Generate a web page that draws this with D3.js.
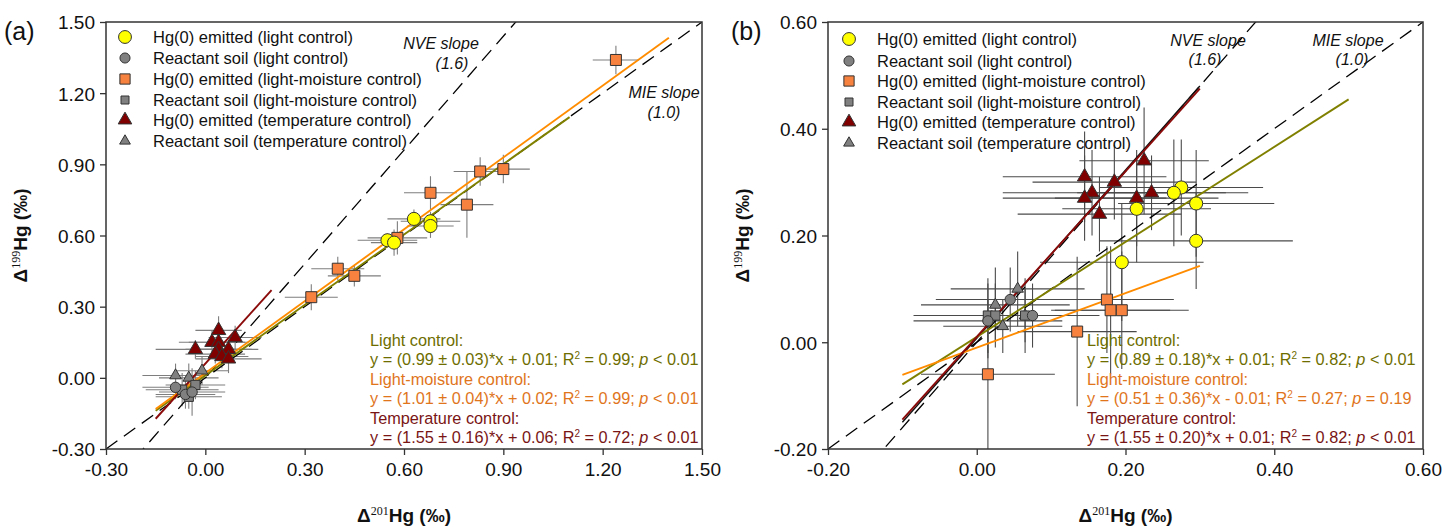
<!DOCTYPE html>
<html><head><meta charset="utf-8">
<script src="https://cdn.jsdelivr.net/npm/d3@7"></script>
<style>body{margin:0;background:#fff} svg{display:block}</style>
</head><body><svg id="c" width="1445" height="529"></svg>
<script>
// ---------- DATA ----------
const xTicksA=[-0.3,0,0.3,0.6,0.9,1.2,1.5];
const yTicksA=[-0.3,0,0.3,0.6,0.9,1.2,1.5];
const xTicksB=[-0.2,0,0.2,0.4,0.6];
const yTicksB=[-0.2,0,0.2,0.4,0.6];

const legendLabels=["Hg(0) emitted (light control)","Reactant soil (light control)","Hg(0) emitted (light-moisture control)","Reactant soil (light-moisture control)","Hg(0) emitted (temperature control)","Reactant soil (temperature control)"];

// points: [x, y, xerr, yerr]
// panel (a)
const emitLightA=[[0.55,0.58,0.09,0.03],[0.57,0.57,0.07,0.055],[0.63,0.67,0.08,0.04],[0.68,0.66,0.09,0.04],[0.68,0.64,0.07,0.05]];
const soilLightA=[[-0.09,-0.04,0.10,0.05],[-0.06,-0.07,0.09,0.06],[-0.04,-0.06,0.10,0.10]];
const emitMoistA=[[0.32,0.34,0.08,0.055],[0.40,0.46,0.08,0.05],[0.45,0.43,0.08,0.045],[0.58,0.59,0.09,0.07],[0.68,0.78,0.08,0.07],[0.79,0.73,0.08,0.14],[0.83,0.87,0.08,0.06],[0.90,0.88,0.08,0.06],[1.24,1.34,0.07,0.06]];
const soilMoistA=[[-0.07,-0.05,0.11,0.07],[-0.03,-0.03,0.09,0.06],[-0.05,-0.08,0.10,0.05]];
const emitTempA=[[-0.03,0.12,0.12,0.04],[0.02,0.15,0.10,0.05],[0.04,0.20,0.07,0.06],[0.04,0.15,0.09,0.04],[0.09,0.17,0.08,0.05],[0.04,0.12,0.10,0.04],[0.07,0.12,0.09,0.04],[0.03,0.10,0.09,0.04],[0.05,0.09,0.08,0.05],[0.07,0.08,0.10,0.06]];
const soilTempA=[[-0.09,0.01,0.10,0.05],[-0.05,0.00,0.09,0.06],[-0.01,0.03,0.08,0.06]];
// panel (b)
const emitLightB=[[0.275,0.29,0.11,0.09],[0.265,0.28,0.10,0.10],[0.295,0.26,0.105,0.10],[0.215,0.25,0.10,0.10],[0.295,0.19,0.13,0.09],[0.195,0.15,0.11,0.11]];
const soilLightB=[[0.015,0.04,0.10,0.07],[0.045,0.08,0.10,0.06],[0.075,0.05,0.09,0.06]];
const emitMoistB=[[0.175,0.08,0.09,0.10],[0.18,0.06,0.08,0.12],[0.195,0.06,0.09,0.11],[0.135,0.02,0.08,0.14],[0.015,-0.06,0.09,0.14]];
const soilMoistB=[[0.015,0.05,0.10,0.07],[0.025,0.05,0.09,0.06],[0.065,0.05,0.08,0.05]];
const emitTempB=[[0.225,0.34,0.087,0.10],[0.145,0.31,0.11,0.085],[0.185,0.30,0.11,0.07],[0.155,0.28,0.12,0.08],[0.145,0.27,0.11,0.08],[0.215,0.27,0.11,0.09],[0.235,0.28,0.10,0.07],[0.165,0.24,0.11,0.07]];
const soilTempB=[[0.025,0.07,0.10,0.07],[0.055,0.10,0.09,0.07],[0.035,0.03,0.08,0.05],[0.065,0.05,0.09,0.07]];

// regression / reference lines: [slope, intercept, xStart, xEnd]
const fitsA={light:[0.99,0.01,-0.15,1.10],moist:[1.01,0.02,-0.15,1.40],temp:[1.55,0.06,-0.15,0.20]};
const fitsB={light:[0.89,0.01,-0.10,0.50],moist:[0.51,-0.01,-0.10,0.30],temp:[1.55,0.01,-0.10,0.30],tempAlt:[1.575,0.0075,-0.10,0.30]};
const slopeMIE=1.0, slopeNVE=1.6;

const eqA=[["Light control:"],["y = (0.99 ± 0.03)*x + 0.01; R","2"," = 0.99; ","p"," < 0.01"],["Light-moisture control:"],["y = (1.01 ± 0.04)*x + 0.02; R","2"," = 0.99; ","p"," < 0.01"],["Temperature control:"],["y = (1.55 ± 0.16)*x + 0.06; R","2"," = 0.72; ","p"," < 0.01"]];
const eqB=[["Light control:"],["y = (0.89 ± 0.18)*x + 0.01; R","2"," = 0.82; ","p"," < 0.01"],["Light-moisture control:"],["y = (0.51 ± 0.36)*x - 0.01; R","2"," = 0.27; ","p"," = 0.19"],["Temperature control:"],["y = (1.55 ± 0.20)*x + 0.01; R","2"," = 0.82; ","p"," < 0.01"]];

// ---------- STYLE ----------
const C={yellow:"#FFFF00",gray:"#808080",orange:"#F7813F",red:"#800000",olive:"#808000",oliveText:"#6E6E00",orangeLine:"#FF8C00",orangeText:"#E0751C",redLine:"#8B0A0A",redText:"#7A1515"};
const styles=[
 {shape:d3.symbolCircle,fill:C.yellow,size:135,lsize:130},
 {shape:d3.symbolCircle,fill:C.gray,size:85,lsize:80},
 {shape:d3.symbolSquare,fill:C.orange,size:121,lsize:105},
 {shape:d3.symbolSquare,fill:C.gray,size:85,lsize:64},
 {shape:d3.symbolTriangle,fill:C.red,size:90,lsize:80},
 {shape:d3.symbolTriangle,fill:C.gray,size:58,lsize:50}
];
const F="'Liberation Sans', Arial, sans-serif";
const svg=d3.select("#c");

function panel(cfg){
  const x=d3.scaleLinear().domain(cfg.xd).range([cfg.l,cfg.r]);
  const y=d3.scaleLinear().domain(cfg.yd).range([cfg.b,cfg.t]);
  const g=svg.append("g");
  const cid="clip"+cfg.id;
  svg.append("clipPath").attr("id",cid).append("rect").attr("x",cfg.l).attr("y",cfg.t).attr("width",cfg.r-cfg.l).attr("height",cfg.b-cfg.t);
  const plot=g.append("g").attr("clip-path",`url(#${cid})`);
  // error bars
  const eb=plot.append("g").attr("stroke",cfg.ebColor).attr("stroke-width",1.1);
  const order=[5,3,1,4,2,0];
  order.forEach(si=>{
    cfg.series[si].forEach(p=>{
      eb.append("line").attr("x1",x(p[0]-p[2])).attr("x2",x(p[0]+p[2])).attr("y1",y(p[1])).attr("y2",y(p[1]));
      eb.append("line").attr("x1",x(p[0])).attr("x2",x(p[0])).attr("y1",y(p[1]-p[3])).attr("y2",y(p[1]+p[3]));
    });
  });
  // reference lines
  const ref=(s)=>{const x0=cfg.xd[0],x1=cfg.xd[1];
    plot.append("line").attr("x1",x(x0)).attr("y1",y(s*x0)).attr("x2",x(x1)).attr("y2",y(s*x1))
      .attr("stroke","#000").attr("stroke-width",1.3).attr("stroke-dasharray","14,8");};
  ref(slopeMIE); ref(slopeNVE);
  // fits
  const fit=(f,col,w)=>{plot.append("line").attr("x1",x(f[2])).attr("y1",y(f[0]*f[2]+f[1])).attr("x2",x(f[3])).attr("y2",y(f[0]*f[3]+f[1])).attr("stroke",col).attr("stroke-width",w);};
  if(cfg.fits.tempAlt) fit(cfg.fits.tempAlt,"#111",1.4);
  fit(cfg.fits.light,C.olive,1.9);
  fit(cfg.fits.moist,C.orangeLine,1.9);
  fit(cfg.fits.temp,C.redLine,1.9);
  // markers
  order.forEach(si=>{
    const st=styles[si];
    plot.selectAll(null).data(cfg.series[si]).enter().append("path")
      .attr("d",d3.symbol().type(st.shape).size(st.size))
      .attr("transform",d=>`translate(${x(d[0])},${y(d[1])})`)
      .attr("fill",st.fill).attr("stroke","#333").attr("stroke-width",1);
  });
  // axes
  const fmt=d=>d.toFixed(2);
  const ax=g.append("g").attr("transform",`translate(0,${cfg.b})`).call(d3.axisBottom(x).tickValues(cfg.xt).tickFormat(fmt).tickSize(6).tickSizeOuter(0).tickPadding(8));
  const ay=g.append("g").attr("transform",`translate(${cfg.l},0)`).call(d3.axisLeft(y).tickValues(cfg.yt).tickFormat(fmt).tickSize(6).tickSizeOuter(0).tickPadding(5));
  [ax,ay].forEach(a=>{a.select(".domain").remove();a.selectAll("line").attr("stroke","#333").attr("stroke-width",1.3);
    a.selectAll("text").attr("font-family",F).attr("font-size",19).attr("fill","#111");});
  ay.selectAll("text").attr("dy","0.36em");
  g.append("rect").attr("x",cfg.l).attr("y",cfg.t).attr("width",cfg.r-cfg.l).attr("height",cfg.b-cfg.t).attr("fill","none").attr("stroke","#333").attr("stroke-width",1.5);
  // legend
  const lg=g.append("g");
  legendLabels.forEach((lab,i)=>{
    const yy=cfg.legY[i];
    lg.append("path").attr("d",d3.symbol().type(styles[i].shape).size(styles[i].lsize)).attr("transform",`translate(${cfg.legX},${yy})`).attr("fill",styles[i].fill).attr("stroke","#333").attr("stroke-width",1);
    lg.append("text").attr("x",cfg.legX+28).attr("y",yy).attr("dy","0.36em").attr("font-family",F).attr("font-size",16.5).attr("fill","#111").text(lab);
  });
  // slope labels
  cfg.notes.forEach(n=>{g.append("text").attr("x",n[1]).attr("y",n[2]).attr("dy","0.36em").attr("text-anchor","middle").attr("font-family",F).attr("font-style","italic").attr("font-size",16).attr("fill","#111").text(n[0]);});
  // equations
  const cols=[C.oliveText,C.oliveText,C.orangeText,C.orangeText,C.redText,C.redText];
  cfg.eq.forEach((parts,i)=>{
    const t=g.append("text").attr("x",cfg.eqX).attr("y",cfg.eqY[i]+6).attr("font-family",F).attr("font-size",16.3).attr("fill",cols[i]);
    parts.forEach((s,j)=>{
      const ts=t.append("tspan").text(s);
      if(parts.length>1&&j===1){ts.attr("font-size",10).attr("dy",-6);}
      if(parts.length>1&&j===2){ts.attr("dy",6);}
      if(parts.length>1&&j===3){ts.attr("font-style","italic");}
    });
  });
  // axis titles
  const title=(tx,ty,rot,sup)=>{
    const t=g.append("text").attr("transform",`translate(${tx},${ty}) rotate(${rot})`).attr("text-anchor","middle")
      .attr("font-family","'Liberation Sans Narrow','Arial Narrow','Liberation Sans',sans-serif").attr("font-weight","bold").attr("font-size",19).attr("fill","#111");
    t.append("tspan").text("Δ");
    t.append("tspan").text(sup).attr("font-family","'Liberation Serif',serif").attr("font-size",12).attr("font-weight","normal").attr("dy",-7);
    t.append("tspan").text("Hg (‰)").attr("dy",7);
  };
  title((cfg.l+cfg.r)/2,522,0,"201");
  title(cfg.yTitleX,(cfg.t+cfg.b)/2,-90,"199");
  g.append("text").attr("x",cfg.tagX).attr("y",40).attr("font-family",F).attr("font-size",25).attr("fill","#111").text(cfg.tag);
}

panel({id:"a",xd:[-0.3,1.5],yd:[-0.3,1.5],l:106,r:702,t:22,b:449,xt:xTicksA,yt:yTicksA,ebColor:"#7e7e7e",
  series:[emitLightA,soilLightA,emitMoistA,soilMoistA,emitTempA,soilTempA],fits:fitsA,
  legX:125,legY:[37,58,79,100,120,141],
  notes:[["NVE slope",441,43],["(1.6)",452,63],["MIE slope",664,92],["(1.0)",664,112]],
  eq:eqA,eqX:370,eqY:[340,359,379,398,418,437],yTitleX:27,tagX:4,tag:"(a)"});
panel({id:"b",xd:[-0.2,0.6],yd:[-0.2,0.6],l:828,r:1423,t:22,b:449,xt:xTicksB,yt:yTicksB,ebColor:"#4a4a4a",
  series:[emitLightB,soilLightB,emitMoistB,soilMoistB,emitTempB,soilTempB],fits:fitsB,
  legX:849,legY:[39,61,81,102,122,143],
  notes:[["NVE slope",1208,40],["(1.6)",1205,59],["MIE slope",1348,40],["(1.0)",1352,59]],
  eq:eqB,eqX:1087,eqY:[340,359,379,398,418,437],yTitleX:749,tagX:731,tag:"(b)"});
</script></body></html>
